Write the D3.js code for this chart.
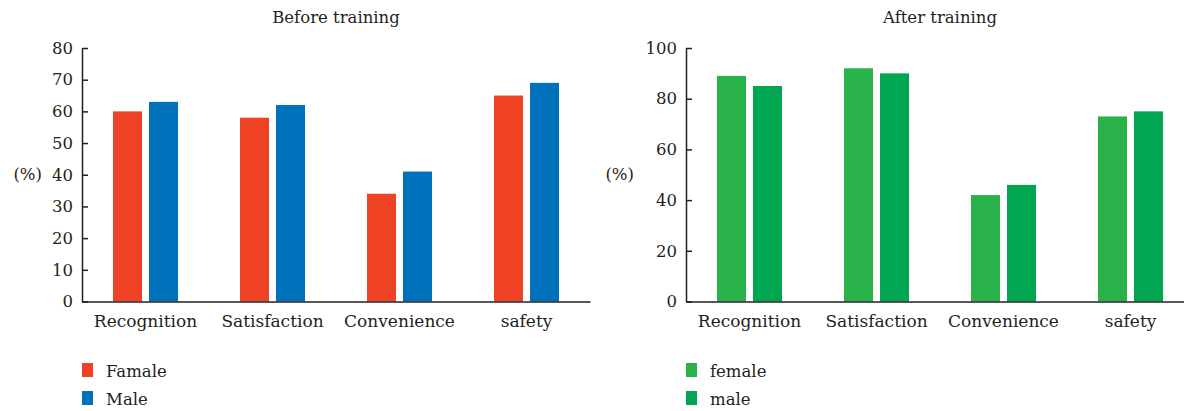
<!DOCTYPE html>
<html>
<head>
<meta charset="utf-8">
<script src="https://cdn.jsdelivr.net/npm/d3@7"></script>
<style>
  html, body { margin: 0; padding: 0; background: #ffffff; }
  svg { display: block; }
  text { font-family: "DejaVu Serif", serif; fill: #231F20; }
</style>
</head>
<body>
<svg id="chart" width="1184" height="411"></svg>
<script>
// ---- data ----
const categories = ["Recognition", "Satisfaction", "Convenience", "safety"];
const beforeFemale = [60, 58, 34, 65];
const beforeMale = [63, 62, 41, 69];
const afterFemale = [89, 92, 42, 73];
const afterMale = [85, 90, 46, 75];
const beforeTicks = [0, 10, 20, 30, 40, 50, 60, 70, 80];
const afterTicks = [0, 20, 40, 60, 80, 100];
const beforeLegend = ["Famale", "Male"];
const afterLegend = ["female", "male"];
const titles = ["Before training", "After training"];
const unitLabel = "(%)";

// ---- styles ----
const ink = "#231F20";
const fontSize = 16.5;
const catFontSize = 17;

const svg = d3.select("#chart");

function drawPanel(cfg) {
  const x0 = cfg.x0, width = 508, yTop = 48, yBottom = 301.5;
  const g = svg.append("g");

  const x = d3.scaleBand().domain(categories).range([x0, x0 + width]).paddingInner(0).paddingOuter(0);
  const xs = d3.scaleBand().domain(["f", "m"])
    .range([x.bandwidth() / 2 - 32.5, x.bandwidth() / 2 + 32.5])
    .paddingInner(7 / 36).paddingOuter(0);
  const y = d3.scaleLinear().domain(cfg.domain).range([yBottom, yTop]);

  const rows = categories.map((c, i) => ({ c, f: cfg.female[i], m: cfg.male[i] }));

  // bars
  const grp = g.selectAll("g.grp").data(rows).join("g")
    .attr("transform", d => `translate(${x(d.c)},0)`);
  grp.append("rect")
    .attr("x", xs("f")).attr("width", xs.bandwidth())
    .attr("y", d => y(d.f)).attr("height", d => y(0) - y(d.f))
    .attr("fill", cfg.colors[0]);
  grp.append("rect")
    .attr("x", xs("m")).attr("width", xs.bandwidth())
    .attr("y", d => y(d.m)).attr("height", d => y(0) - y(d.m))
    .attr("fill", cfg.colors[1]);

  // y axis (ticks point inward)
  const yAxis = d3.axisLeft(y).tickValues(cfg.ticks).tickSizeInner(-6).tickSizeOuter(0).tickPadding(9)
    .tickFormat(d3.format("d"));
  const ya = g.append("g").attr("transform", `translate(${x0},0)`).call(yAxis);
  ya.select(".domain").attr("stroke", ink).attr("stroke-width", 1.5);
  ya.selectAll(".tick line").attr("stroke", ink).attr("stroke-width", 1.5);
  ya.selectAll(".tick text").attr("font-size", fontSize).attr("fill", ink);

  // x axis
  const xAxis = d3.axisBottom(x).tickSize(0).tickSizeOuter(0).tickPadding(13);
  const xa = g.append("g").attr("transform", `translate(0,${yBottom})`).call(xAxis);
  xa.select(".domain").attr("stroke", ink).attr("stroke-width", 1.5);
  xa.selectAll(".tick text").attr("font-size", catFontSize).attr("fill", ink);

  // title
  g.append("text").attr("x", x0 + width / 2).attr("y", 23)
    .attr("text-anchor", "middle").attr("font-size", fontSize).text(cfg.title);

  // unit label
  g.append("text").attr("x", x0 - cfg.unitOffset).attr("y", (yTop + yBottom) / 2)
    .attr("dy", "0.32em").attr("text-anchor", "end").attr("font-size", fontSize).text(unitLabel);

  // legend
  const lg = g.selectAll("g.lg").data(cfg.legend).join("g")
    .attr("transform", (d, i) => `translate(${x0},${363 + i * 28})`);
  lg.append("rect").attr("width", 11).attr("height", 14).attr("fill", (d, i) => cfg.colors[i]);
  lg.append("text").attr("x", 24).attr("y", 14).attr("font-size", fontSize).text(d => d);
}

drawPanel({
  x0: 82, domain: [0, 80], ticks: beforeTicks, female: beforeFemale, male: beforeMale,
  colors: ["#EF4123", "#0072BC"], legend: beforeLegend, title: titles[0], unitOffset: 40
});
drawPanel({
  x0: 686, domain: [0, 100], ticks: afterTicks, female: afterFemale, male: afterMale,
  colors: ["#29B24A", "#00A650"], legend: afterLegend, title: titles[1], unitOffset: 52
});
</script>
</body>
</html>
